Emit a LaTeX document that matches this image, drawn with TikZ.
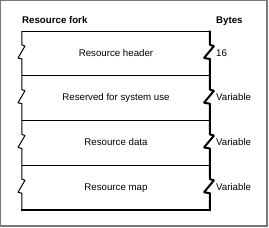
\documentclass[tikz,border=0pt]{standalone}
\usepackage{fontspec}
\setmainfont{Liberation Sans}
\usetikzlibrary{positioning}

\begin{document}
\begin{tikzpicture}[x=1pt,y=-1pt,
		field/.style={font=\fontsize{9.7}{11}\selectfont, inner sep=0pt, anchor=base},
		size/.style={field, anchor=base west},
		title/.style={font=\fontsize{9.7}{11}\selectfont\bfseries, inner sep=0pt, anchor=base west},
		frame/.style={draw=gray!95!black}]
			
			\useasboundingbox (0,0) rectangle (269,228);
			
			% Gray frame
			\draw[frame,line width=1pt] (0.5,226) -- (0.5,0.5) -- (267,0.5);
			\draw[frame,line width=2pt] (267,0) -- (267,226) -- (0,226);
			
			% Headings
			\node[title] (fork)  at (22,23)  {Resource fork};
			\node[title] (bytes) at (216,23) {Bytes};
			
			% Top line and dividers
			\draw[line width=1pt] (22,31) -- (210,31);
			\foreach \t in {75.75,120.5,165.25}
				\draw[line width=1pt] (22,\t) -- (210,\t);
			\draw[line width=2pt] (21.5,210) -- (211,210);
			
			% Left side, broken in each field
			\draw[line width=1pt,line join=bevel] (22,31)
				\foreach \t in {31,75.75,120.5,165.25} {
					-- (22,\t+14) -- (25,\t+15) -- (18,\t+27) -- (22,\t+28)
				} -- (22,210);
			
			% Right side, broken in each field
			\draw[line width=2pt,line join=bevel] (210,30.5)
				\foreach \t in {31,75.75,120.5,165.25} {
					-- (210,\t+14) -- (214,\t+15) -- (204,\t+27) -- (210,\t+28)
				} -- (210,211);
			
			% Fields
			\node[field] (header)   at (116,56)     {Resource header};
			\node[field] (reserved) at (116,100.75) {Reserved for system use};
			\node[field] (data)     at (116,145.5)  {Resource data};
			\node[field] (map)      at (116,190.25) {Resource map};
			
			% Sizes
			\node[size] (headersize)   at (216,56)     {16};
			\node[size] (reservedsize) at (216,100.75) {Variable};
			\node[size] (datasize)     at (216,145.5)  {Variable};
			\node[size] (mapsize)      at (216,190.25) {Variable};
			
		\end{tikzpicture}
\end{document}
